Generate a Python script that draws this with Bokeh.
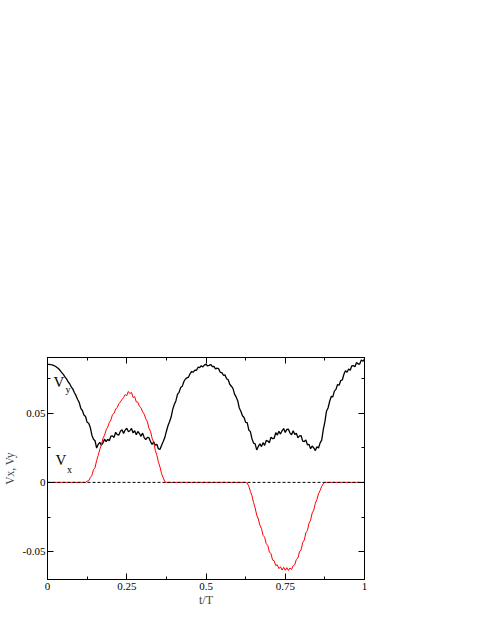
from bokeh.plotting import figure
from bokeh.models import FixedTicker, LinearAxis, Label, Range1d, Span
from bokeh.embed import file_html
from bokeh.resources import INLINE

# sampling grid t/T (step 0.005)
t = [i / 200 for i in range(201)]

# V_y (black)
vy = [
    0.0850, 0.0851, 0.0848, 0.0847, 0.0842, 0.0837, 0.0828, 0.0819, 0.0806, 0.0791,
    0.0778, 0.0760, 0.0746, 0.0725, 0.0711, 0.0688, 0.0672, 0.0646, 0.0625, 0.0597,
    0.0577, 0.0534, 0.0518, 0.0486, 0.0475, 0.0433, 0.0426, 0.0396, 0.0340, 0.0311,
    0.0300, 0.0247, 0.0274, 0.0289, 0.0268, 0.0284, 0.0312, 0.0293, 0.0311, 0.0299,
    0.0334, 0.0335, 0.0324, 0.0361, 0.0344, 0.0341, 0.0369, 0.0379, 0.0353, 0.0377,
    0.0390, 0.0366, 0.0372, 0.0389, 0.0356, 0.0373, 0.0343, 0.0367, 0.0352, 0.0332,
    0.0355, 0.0323, 0.0308, 0.0325, 0.0322, 0.0294, 0.0273, 0.0292, 0.0268, 0.0275,
    0.0241, 0.0238, 0.0268, 0.0294, 0.0323, 0.0367, 0.0408, 0.0437, 0.0471, 0.0526,
    0.0561, 0.0587, 0.0634, 0.0649, 0.0683, 0.0692, 0.0725, 0.0745, 0.0753, 0.0759,
    0.0784, 0.0799, 0.0795, 0.0809, 0.0808, 0.0830, 0.0827, 0.0841, 0.0832, 0.0845,
    0.0852, 0.0839, 0.0843, 0.0850, 0.0834, 0.0836, 0.0817, 0.0823, 0.0818, 0.0793,
    0.0791, 0.0772, 0.0774, 0.0747, 0.0739, 0.0707, 0.0693, 0.0677, 0.0636, 0.0616,
    0.0589, 0.0536, 0.0513, 0.0480, 0.0468, 0.0433, 0.0430, 0.0378, 0.0366, 0.0315,
    0.0283, 0.0278, 0.0234, 0.0259, 0.0277, 0.0258, 0.0286, 0.0267, 0.0302, 0.0298,
    0.0286, 0.0326, 0.0315, 0.0318, 0.0358, 0.0341, 0.0368, 0.0348, 0.0372, 0.0388,
    0.0360, 0.0382, 0.0383, 0.0355, 0.0343, 0.0372, 0.0346, 0.0354, 0.0321, 0.0335,
    0.0337, 0.0297, 0.0294, 0.0305, 0.0270, 0.0274, 0.0243, 0.0262, 0.0249, 0.0229,
    0.0256, 0.0248, 0.0285, 0.0304, 0.0380, 0.0436, 0.0512, 0.0536, 0.0583, 0.0619,
    0.0617, 0.0658, 0.0670, 0.0705, 0.0700, 0.0734, 0.0738, 0.0779, 0.0804, 0.0794,
    0.0817, 0.0808, 0.0840, 0.0842, 0.0833, 0.0865, 0.0853, 0.0853, 0.0883, 0.0872,
    0.0888,
]

# V_x (red)
vx = [
    0.0000, 0.0000, 0.0000, 0.0000, 0.0000, 0.0000, 0.0000, 0.0000, 0.0000, 0.0000,
    0.0000, 0.0000, 0.0000, 0.0000, 0.0000, 0.0000, 0.0000, 0.0000, 0.0000, 0.0000,
    0.0000, 0.0000, 0.0000, 0.0000, 0.0000, 0.0008, 0.0012, 0.0034, 0.0050, 0.0092,
    0.0106, 0.0158, 0.0195, 0.0238, 0.0270, 0.0318, 0.0340, 0.0378, 0.0398, 0.0432,
    0.0450, 0.0488, 0.0498, 0.0528, 0.0540, 0.0566, 0.0580, 0.0598, 0.0612, 0.0632,
    0.0625, 0.0655, 0.0640, 0.0648, 0.0612, 0.0618, 0.0580, 0.0578, 0.0548, 0.0538,
    0.0508, 0.0492, 0.0458, 0.0438, 0.0390, 0.0368, 0.0318, 0.0288, 0.0232, 0.0196,
    0.0145, 0.0110, 0.0062, 0.0032, 0.0006, 0.0000, 0.0000, 0.0000, 0.0000, 0.0000,
    0.0000, 0.0000, 0.0000, 0.0000, 0.0000, 0.0000, 0.0000, 0.0000, 0.0000, 0.0000,
    0.0000, 0.0000, 0.0000, 0.0000, 0.0000, 0.0000, 0.0000, 0.0000, 0.0000, 0.0000,
    0.0000, 0.0000, 0.0000, 0.0000, 0.0000, 0.0000, 0.0000, 0.0000, 0.0000, 0.0000,
    0.0000, 0.0000, 0.0000, 0.0000, 0.0000, 0.0000, 0.0000, 0.0000, 0.0000, 0.0000,
    0.0000, 0.0000, 0.0000, 0.0000, 0.0000, 0.0000, -0.0005, -0.0028, -0.0064, -0.0096,
    -0.0146, -0.0184, -0.0236, -0.0264, -0.0308, -0.0332, -0.0382, -0.0395, -0.0442, -0.0455,
    -0.0502, -0.0514, -0.0560, -0.0565, -0.0600, -0.0594, -0.0622, -0.0608, -0.0632, -0.0612,
    -0.0634, -0.0615, -0.0635, -0.0617, -0.0628, -0.0600, -0.0594, -0.0555, -0.0545, -0.0500,
    -0.0486, -0.0434, -0.0416, -0.0364, -0.0346, -0.0294, -0.0272, -0.0220, -0.0200, -0.0150,
    -0.0124, -0.0082, -0.0058, -0.0028, -0.0010, 0.0000, 0.0000, 0.0000, 0.0000, 0.0000,
    0.0000, 0.0000, 0.0000, 0.0000, 0.0000, 0.0000, 0.0000, 0.0000, 0.0000, 0.0000,
    0.0000, 0.0000, 0.0000, 0.0000, 0.0000, 0.0000, 0.0000, 0.0000, 0.0000, 0.0000,
    0.0000,
]

x_ticks = [0, 0.25, 0.5, 0.75, 1]
x_tick_labels = ["0", "0.25", "0.5", "0.75", "1"]
x_minor = [0.125, 0.375, 0.625, 0.875]
y_ticks = [-0.05, 0, 0.05]
y_tick_labels = ["-0.05", "0", "0.05"]
y_minor = [-0.025, 0.025, 0.075]

FONT = "Liberation Serif"
H = 619

p = figure(
    output_backend="svg", toolbar_location=None,
    x_range=Range1d(0, 1), y_range=Range1d(-0.07, 0.09),
    frame_width=317, frame_height=222,
    min_border_left=47, min_border_top=357, min_border_right=60,
    min_border_bottom=H - 357 - 222,
    background_fill_color="white", border_fill_color="white",
)
p.grid.visible = False
p.outline_line_color = "black"


def style_axis(ax, show_labels):
    ax.axis_line_color = "black"
    ax.axis_line_width = 1
    ax.major_tick_in = 6
    ax.major_tick_out = 0
    ax.minor_tick_in = 3
    ax.minor_tick_out = 0
    ax.major_tick_line_color = "black"
    ax.minor_tick_line_color = "black"
    ax.major_label_text_font = FONT
    ax.major_label_text_font_size = "11px"
    ax.major_label_text_color = "black"
    if not show_labels:
        ax.major_label_text_alpha = 0


p.xaxis.ticker = FixedTicker(ticks=x_ticks, minor_ticks=x_minor)
p.yaxis.ticker = FixedTicker(ticks=y_ticks, minor_ticks=y_minor)
style_axis(p.xaxis[0], True)
style_axis(p.yaxis[0], True)
p.xaxis.major_label_overrides = {v: s for v, s in zip(x_ticks, x_tick_labels)}
p.yaxis.major_label_overrides = {v: s for v, s in zip(y_ticks, y_tick_labels)}
p.xaxis.major_label_standoff = 3
p.yaxis.major_label_standoff = 2
p.xaxis.axis_label = "t/T"
p.xaxis.axis_label_text_font = FONT
p.xaxis.axis_label_text_font_size = "12px"
p.xaxis.axis_label_text_font_style = "normal"
p.xaxis.axis_label_standoff = 0

p.yaxis.axis_label = "Vx, Vy"
p.yaxis.axis_label_text_font = FONT
p.yaxis.axis_label_text_font_size = "11.5px"
p.yaxis.axis_label_text_font_style = "normal"
p.yaxis.axis_label_standoff = 4

top = LinearAxis(ticker=FixedTicker(ticks=x_ticks, minor_ticks=x_minor))
top.major_label_overrides = {v: "" for v in x_ticks}
style_axis(top, False)
p.add_layout(top, "above")
right = LinearAxis(ticker=FixedTicker(ticks=y_ticks, minor_ticks=y_minor))
right.major_label_overrides = {v: "" for v in y_ticks}
style_axis(right, False)
p.add_layout(right, "right")

p.line(t, vy, line_color="black", line_width=1.3)
p.line(t, vx, line_color="red", line_width=1)
p.add_layout(Span(location=0, dimension="width", line_color="black",
                  line_width=1, line_dash="3 2"))

# in-plot labels V_y and V_x
p.add_layout(Label(x=0.019, y=0.0664, text="V", text_font=FONT,
                   text_font_size="15px", text_color="black"))
p.add_layout(Label(x=0.019, y=0.0664, x_offset=12, y_offset=-4.5, text="y",
                   text_font=FONT, text_font_size="10px", text_color="black"))
p.add_layout(Label(x=0.025, y=0.0101, text="V", text_font=FONT,
                   text_font_size="15px", text_color="black"))
p.add_layout(Label(x=0.025, y=0.0101, x_offset=11.5, y_offset=-7, text="x",
                   text_font=FONT, text_font_size="10px", text_color="black"))

open("out.html", "w").write(file_html(p, INLINE))
